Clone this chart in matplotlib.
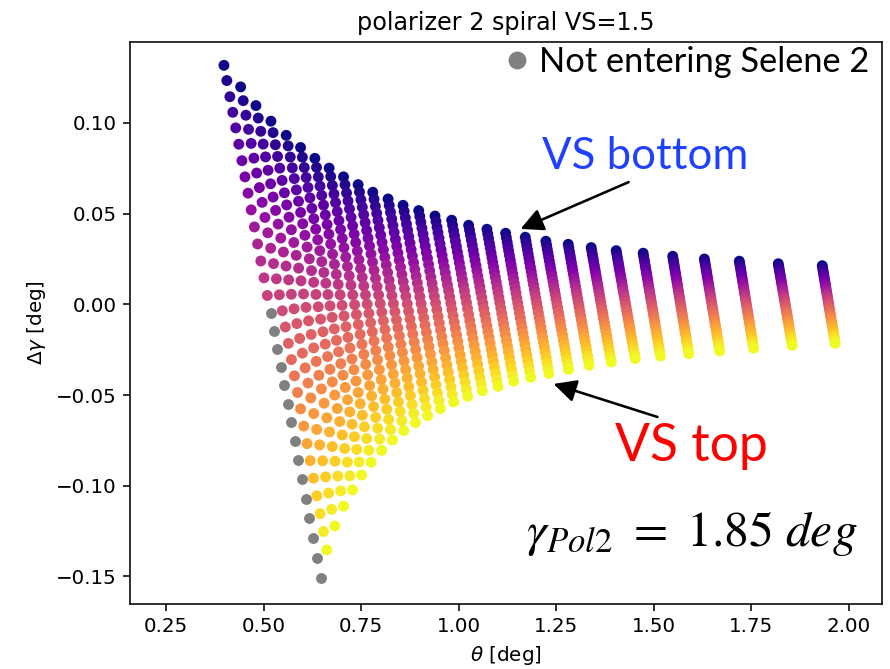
import numpy as np
import matplotlib
matplotlib.use("Agg")
import matplotlib.pyplot as plt
from matplotlib.lines import Line2D

# ---- data ----
# top (first row) and bottom (last row) point of every column of the scan grid
theta_top = [0.3985, 0.4413, 0.4805, 0.5189, 0.5581, 0.5949, 0.6316, 0.6682, 0.7051, 0.7425,
             0.7801, 0.8193, 0.8577, 0.8979, 0.9396, 0.9824, 1.0259, 1.0728, 1.1207, 1.1711,
             1.2239, 1.2812, 1.3401, 1.4042, 1.4733, 1.5491, 1.6303, 1.7199, 1.8198, 1.9325]
dgamma_top = [0.1318, 0.1199, 0.1096, 0.1010, 0.0932, 0.0865, 0.0805, 0.0751, 0.0703, 0.0660,
              0.0618, 0.0581, 0.0546, 0.0517, 0.0487, 0.0464, 0.0436, 0.0414, 0.0392, 0.0370,
              0.0348, 0.0331, 0.0313, 0.0296, 0.0282, 0.0265, 0.0250, 0.0238, 0.0224, 0.0213]
theta_bottom = [0.6462, 0.6623, 0.6828, 0.7051, 0.7281, 0.7512, 0.7757, 0.8031, 0.8305, 0.8595,
                0.8894, 0.9209, 0.9535, 0.9875, 1.0234, 1.0610, 1.1010, 1.1412, 1.1847, 1.2316,
                1.2820, 1.3350, 1.3914, 1.4528, 1.5176, 1.5901, 1.6695, 1.7565, 1.8556, 1.9657]
dgamma_bottom = [-0.1509, -0.1354, -0.1222, -0.1113, -0.1023, -0.0941, -0.0871, -0.0805, -0.0748, -0.0696,
                 -0.0652, -0.0614, -0.0575, -0.0538, -0.0507, -0.0476, -0.0452, -0.0424, -0.0402, -0.0381,
                 -0.0358, -0.0336, -0.0318, -0.0299, -0.0285, -0.0272, -0.0257, -0.0242, -0.0226, -0.0215]
# the 30 points of the first column (fully resolved in the picture) -> row profile
dgamma_col1 = [0.1318, 0.1234, 0.1145, 0.1059, 0.0973, 0.0883, 0.0792, 0.0703, 0.0613, 0.0521,
               0.0427, 0.0333, 0.0239, 0.0146, 0.0049, -0.0049, -0.0148, -0.0248, -0.0347, -0.0446,
               -0.0548, -0.0648, -0.0753, -0.0860, -0.0964, -0.1071, -0.1179, -0.1288, -0.1397, -0.1509]
n_not_entering = 15          # lowest points of the first column do not enter Selene 2
legend_label = "Not entering Selene 2"
title = "polarizer 2 spiral VS=1.5"

# ---- figure ----
DPI = 143
fig = plt.figure(figsize=(890 / DPI, 669 / DPI), dpi=DPI)
ax = fig.add_axes([0.1465, 0.0978, 0.8442, 0.8398])

d1 = np.array(dgamma_col1)
frac = (d1 - d1[0]) / (d1[-1] - d1[0])
tt, tb = np.array(theta_top), np.array(theta_bottom)
gt, gb = np.array(dgamma_top), np.array(dgamma_bottom)
TH = tt[:, None] + frac[None, :] * (tb - tt)[:, None]
DG = gt[:, None] + frac[None, :] * (gb - gt)[:, None]
ncol, nrow = TH.shape
ROW = np.tile(np.arange(nrow), (ncol, 1))
COL = np.tile(np.arange(ncol)[:, None], (1, nrow))
grey = (COL == 0) & (ROW >= nrow - n_not_entering)

ax.scatter(TH[~grey], DG[~grey], c=ROW[~grey], cmap="plasma", vmin=0, vmax=nrow - 1,
           s=30, linewidths=0)
ax.scatter(TH[grey], DG[grey], color="grey", s=30, linewidths=0)

ax.set_xlim(0.1586, 2.085)
ax.set_ylim(-0.165, 0.1448)
ax.set_xticks([0.25, 0.5, 0.75, 1.0, 1.25, 1.5, 1.75, 2.0])
ax.set_yticks([-0.15, -0.10, -0.05, 0.0, 0.05, 0.10])
ax.set_title(title)
ax.set_xlabel(r"$\theta$ [deg]")
ax.set_ylabel(r"$\Delta\gamma$ [deg]")

handle = Line2D([], [], marker="o", ls="", color="grey", markersize=9, markeredgewidth=0)
ax.legend([handle], [legend_label], loc="upper right", frameon=False,
          prop={"family": "Lato", "size": 17.3}, handletextpad=0.25, handlelength=0.8,
          borderaxespad=0.0, borderpad=0.1, bbox_to_anchor=(0.988, 0.999))

ax.text(0.5485, 0.7736, "VS bottom", transform=ax.transAxes, color="#2040ff",
        fontfamily="Lato", fontsize=22, va="baseline", ha="left")
ax.text(0.6455, 0.2538, "VS top", transform=ax.transAxes, color="#ff0000",
        fontfamily="Lato", fontsize=26, va="baseline", ha="left")
ax.text(0.527, 0.1025, r"$\gamma_{Pol2}\ =\ 1.85\ deg$", transform=ax.transAxes,
        fontsize=25, math_fontfamily="stix", va="baseline", ha="left")

arrow = dict(arrowstyle="-|>", color="black", lw=1.3, mutation_scale=24, shrinkA=0, shrinkB=0)
ax.annotate("", xy=(1.159, 0.0416), xytext=(1.436, 0.0674), arrowprops=arrow)
ax.annotate("", xy=(1.2436, -0.0439), xytext=(1.510, -0.0621), arrowprops=arrow)

fig.savefig("out.png", dpi=DPI)
